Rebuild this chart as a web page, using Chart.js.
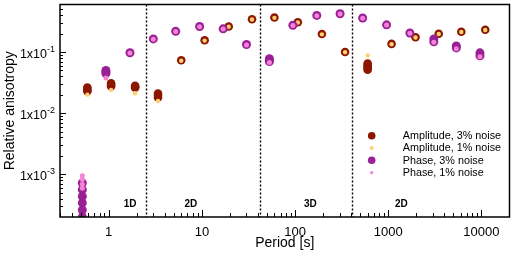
<!DOCTYPE html>
<html>
<head>
<meta charset="utf-8">
<script src="https://cdn.jsdelivr.net/npm/chart.js@4.4.1/dist/chart.umd.min.js"></script>
<style>
  html, body { margin: 0; padding: 0; background: #fff; }
</style>
</head>
<body>
<canvas id="myChart" width="514" height="257"></canvas>
<script>
const FONT = "'Liberation Sans', Arial, Helvetica, sans-serif";

// periods [s] and relative anisotropy, several realizations per period
const ampPeriods = [0.59, 1.06, 1.92, 3.38, 6.0, 10.7, 19.4, 34.5, 60, 107, 194, 344, 601, 1085, 1960, 3480, 6080, 10990];
const amp3 = [
    [0.0263, 0.0245, 0.0229], [0.0308, 0.0290, 0.0275], [0.0281, 0.0270, 0.0261], [0.0209, 0.0195, 0.0180],
    [0.0733], [0.156], [0.262], [0.344], [0.367], [0.308], [0.197], [0.100],
    [0.0647, 0.0612, 0.0579, 0.0545, 0.0512], [0.136], [0.175], [0.1995], [0.215], [0.232]
];
const amp1 = [
    [0.0201], [0.0240], [0.0212], [0.0158], [0.0722], [0.154], [0.259], [0.341], [0.363], [0.305],
    [0.195], [0.099], [0.0881], [0.134], [0.173], [0.197], [0.213], [0.229]
];
const phPeriods = [0.521, 0.933, 1.69, 3.01, 5.23, 9.45, 16.9, 30.1, 53, 94.7, 171, 304, 531, 959, 1706, 3083, 5373, 9640];
const ph3 = [
    [7.2e-4, 5.6e-4, 4.35e-4, 3.4e-4, 2.6e-4, 2.0e-4, 1.6e-4],
    [0.0499, 0.047, 0.0447], [0.0974], [0.164], [0.218], [0.262], [0.240], [0.133],
    [0.078, 0.0735, 0.0698], [0.275], [0.398], [0.424], [0.361], [0.279], [0.205],
    [0.164, 0.147], [0.126, 0.117], [0.097, 0.087]
];
const ph1 = [
    [9.5e-4, 8.2e-4, 6.9e-4, 5.9e-4],
    [0.0375], [0.0965], [0.162], [0.216], [0.259], [0.238], [0.131], [0.0672], [0.272],
    [0.394], [0.42], [0.357], [0.276], [0.203], [0.145], [0.113], [0.084]
];

const seriesLabels = ['Amplitude, 3% noise', 'Amplitude, 1% noise', 'Phase, 3% noise', 'Phase, 1% noise'];
const seriesColors = ['#8c1700', '#ffcf70', '#9a2096', '#f383d6'];

const dividers = [2.5, 42.5, 405];
const regionNames = ['1D', '2D', '3D', '2D'];
const regionX = [1.7, 7.6, 146, 1380];
const regionY = 3.2e-4;

const xTickLabels = [1, 10, 100, 1000, 10000];
const yTickValues = [1e-3, 1e-2, 1e-1];
const yTickExp = ['-3', '-2', '-1'];

function toPoints(periods, groups) {
    const pts = [];
    groups.forEach((g, i) => g.forEach(v => pts.push({ x: periods[i], y: v })));
    return pts;
}

const decorations = {
    id: 'decorations',
    afterDatasetsDraw(chart) {
        const ctx = chart.ctx, a = chart.chartArea;
        const xs = chart.scales.x, ys = chart.scales.y;
        ctx.save();
        ctx.strokeStyle = '#000';

        // dotted dividers
        ctx.lineWidth = 1.4;
        ctx.setLineDash([2, 2]);
        dividers.forEach(v => {
            const px = Math.round(xs.getPixelForValue(v)) + 0.5;
            ctx.beginPath(); ctx.moveTo(px, a.top); ctx.lineTo(px, a.bottom); ctx.stroke();
        });
        ctx.setLineDash([]);

        // inward ticks
        ctx.lineWidth = 1;
        for (let e = -1; e <= 4; e++) {
            for (let m = 1; m <= 9; m++) {
                const v = m * Math.pow(10, e);
                if (v <= xs.min || v >= xs.max) continue;
                const px = Math.round(xs.getPixelForValue(v)) + 0.5;
                ctx.beginPath(); ctx.moveTo(px, a.bottom); ctx.lineTo(px, a.bottom - (m === 1 ? 7 : 4)); ctx.stroke();
            }
        }
        for (let e = -4; e <= 0; e++) {
            for (let m = 1; m <= 9; m++) {
                const v = m * Math.pow(10, e);
                if (v <= ys.min || v >= ys.max) continue;
                const py = Math.round(ys.getPixelForValue(v)) + 0.5;
                ctx.beginPath(); ctx.moveTo(a.left, py); ctx.lineTo(a.left + (m === 1 ? 6 : 3), py); ctx.stroke();
            }
        }

        // frame
        ctx.lineWidth = 1.5;
        ctx.strokeRect(a.left, a.top, a.right - a.left, a.bottom - a.top);

        // y tick labels with exponents
        ctx.fillStyle = '#000';
        ctx.textBaseline = 'alphabetic';
        yTickValues.forEach((v, i) => {
            const py = ys.getPixelForValue(v);
            ctx.font = '9px ' + FONT;
            const ew = ctx.measureText(yTickExp[i]).width;
            ctx.textAlign = 'left';
            ctx.fillText(yTickExp[i], 55 - ew, py - 0.5);
            ctx.font = '12.5px ' + FONT;
            ctx.textAlign = 'right';
            ctx.fillText('1x10', 55 - ew, py + 5.5);
        });

        // region labels
        ctx.font = 'bold 10px ' + FONT;
        ctx.textAlign = 'center';
        ctx.textBaseline = 'middle';
        regionNames.forEach((t, i) => {
            ctx.fillText(t, xs.getPixelForValue(regionX[i]), ys.getPixelForValue(regionY));
        });

        // legend
        const rows = [135.7, 148, 160.3, 172.7];
        const radii = [3.8, 2, 3.8, 1.6];
        ctx.font = '10.8px ' + FONT;
        ctx.textAlign = 'left';
        seriesLabels.forEach((t, i) => {
            ctx.fillStyle = seriesColors[i];
            ctx.beginPath(); ctx.arc(371.7, rows[i], radii[i], 0, Math.PI * 2); ctx.fill();
            ctx.fillStyle = '#000';
            ctx.fillText(t, 402.7, rows[i] + 0.5);
        });
        ctx.restore();
    }
};

function makeSet(i, data, r, order) {
    return {
        label: seriesLabels[i],
        data: data,
        backgroundColor: seriesColors[i],
        pointRadius: r,
        pointBorderWidth: 0,
        pointHoverRadius: r,
        order: order,
        clip: 0
    };
}

const chart = new Chart(document.getElementById('myChart').getContext('2d'), {
    type: 'scatter',
    data: {
        datasets: [
            makeSet(0, toPoints(ampPeriods, amp3), 4.3, 4),
            makeSet(1, toPoints(ampPeriods, amp1), 2.2, 3),
            makeSet(2, toPoints(phPeriods, ph3), 4.5, 2),
            makeSet(3, toPoints(phPeriods, ph1), 2.5, 1)
        ]
    },
    options: {
        responsive: false,
        animation: false,
        events: [],
        layout: { padding: { top: 1, right: 2.5, left: 0, bottom: 0 } },
        plugins: { legend: { display: false }, tooltip: { enabled: false } },
        scales: {
            x: {
                type: 'logarithmic',
                min: 0.3, max: 20000,
                grid: { display: false, drawTicks: false },
                border: { display: false },
                afterBuildTicks: s => { s.ticks = xTickLabels.map(v => ({ value: v })); },
                afterFit: s => { s.height = 40; },
                ticks: {
                    autoSkip: false, maxRotation: 0, padding: 7.5,
                    color: '#000', font: { family: FONT, size: 13 },
                    callback: v => String(v)
                },
                title: {
                    display: true, text: 'Period [s]', color: '#000',
                    font: { family: FONT, size: 14 }, padding: { top: 0, bottom: 5 }
                }
            },
            y: {
                type: 'logarithmic',
                min: 2e-4, max: 0.6,
                grid: { display: false },
                border: { display: false },
                afterBuildTicks: s => { s.ticks = yTickValues.map(v => ({ value: v })); },
                afterFit: s => { s.width = 60; },
                ticks: { display: false },
                title: {
                    display: true, text: 'Relative anisotropy', color: '#000',
                    font: { family: FONT, size: 14 }, padding: { top: 1.6, bottom: 0 }
                }
            }
        }
    },
    plugins: [decorations]
});
</script>
</body>
</html>
